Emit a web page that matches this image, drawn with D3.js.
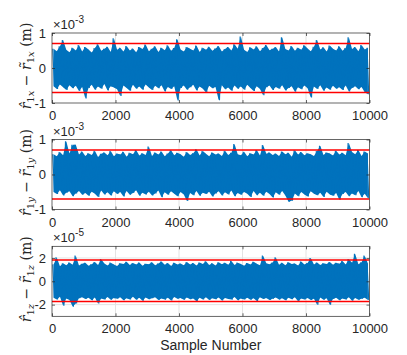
<!DOCTYPE html>
<html>
<head>
<meta charset="utf-8">
<script src="https://cdn.jsdelivr.net/npm/d3@7/dist/d3.min.js"></script>
<style>
  html, body { margin: 0; padding: 0; background: #fff; }
  svg { display: block; }
</style>
</head>
<body>
<svg id="chart" width="407" height="355"></svg>
<script>
// ---------- DATA ----------
const xTicks = [0, 2000, 4000, 6000, 8000, 10000];
const binSize = 100; // each envelope value covers 100 samples

// Panel 1: r̂1x − r̃1x, units of 1e-3 m (upper / lower extremes per 100-sample bin)
const p1Up = [0.55,0.48,0.62,0.80,0.52,0.45,0.58,0.50,0.66,0.47,
              0.60,0.53,0.44,0.57,0.68,0.49,0.55,0.61,0.46,0.85,
              0.52,0.58,0.47,0.63,0.50,0.56,0.45,0.60,0.54,0.67,
              0.48,0.55,0.62,0.46,0.58,0.51,0.65,0.49,0.57,0.82,
              0.53,0.47,0.60,0.55,0.50,0.64,0.46,0.58,0.52,0.61,
              0.49,0.56,0.63,0.47,0.54,0.60,0.50,0.68,0.55,0.90,
              0.52,0.46,0.59,0.53,0.62,0.48,0.57,0.66,0.51,0.55,
              0.60,0.47,0.88,0.54,0.50,0.63,0.49,0.58,0.52,0.65,
              0.56,0.48,0.61,0.80,0.53,0.59,0.47,0.64,0.55,0.50,
              0.62,0.49,0.57,0.88,0.54,0.60,0.48,0.66,0.53,0.58];
const p1Lo = [-0.52,-0.60,-0.47,-0.55,-0.63,-0.49,-0.58,-0.51,-0.66,-0.54,
              -0.87,-0.57,-0.48,-0.62,-0.53,-0.59,-0.46,-0.64,-0.52,-0.56,
              -0.61,-0.80,-0.50,-0.57,-0.65,-0.48,-0.59,-0.53,-0.62,-0.47,
              -0.56,-0.63,-0.51,-0.58,-0.49,-0.67,-0.54,-0.60,-0.52,-0.93,
              -0.57,-0.50,-0.62,-0.55,-0.48,-0.64,-0.53,-0.59,-0.70,-0.51,
              -0.58,-0.54,-0.92,-0.49,-0.61,-0.56,-0.65,-0.50,-0.59,-0.53,
              -0.62,-0.48,-0.57,-0.66,-0.52,-0.60,-0.78,-0.55,-0.50,-0.63,
              -0.54,-0.59,-0.49,-0.64,-0.57,-0.52,-0.68,-0.55,-0.61,-0.50,
              -0.58,-0.84,-0.53,-0.60,-0.49,-0.65,-0.56,-0.62,-0.51,-0.59,
              -0.55,-0.63,-0.50,-0.67,-0.57,-0.52,-0.61,-0.54,-0.69,-0.75];
const p1Bounds = [-0.70, 0.70];
const p1YTicks = [-1, 0, 1];

// Panel 2: r̂1y − r̃1y, units of 1e-3 m
const p2Up = [0.58,0.52,0.64,0.55,0.95,0.60,0.85,0.85,0.57,0.66,
              0.53,0.61,0.56,0.68,0.50,0.59,0.63,0.55,0.67,0.52,
              0.60,0.57,0.65,0.51,0.62,0.58,0.70,0.54,0.61,0.56,
              0.80,0.53,0.63,0.57,0.66,0.52,0.60,0.69,0.55,0.62,
              0.58,0.51,0.64,0.56,0.61,0.72,0.54,0.67,0.59,0.52,
              0.63,0.57,0.60,0.53,0.68,0.56,0.62,0.87,0.58,0.55,
              0.65,0.52,0.61,0.57,0.70,0.54,0.84,0.59,0.63,0.56,
              0.60,0.53,0.66,0.58,0.62,0.51,0.69,0.57,0.64,0.55,
              0.61,0.58,0.53,0.67,0.82,0.56,0.63,0.60,0.54,0.68,
              0.57,0.62,0.55,0.90,0.64,0.58,0.70,0.53,0.66,0.60];
const p2Lo = [-0.50,-0.56,-0.45,-0.60,-0.52,-0.48,-0.62,-0.54,-0.47,-0.58,
              -0.53,-0.61,-0.49,-0.55,-0.64,-0.46,-0.57,-0.51,-0.60,-0.48,
              -0.56,-0.50,-0.63,-0.47,-0.58,-0.53,-0.45,-0.61,-0.52,-0.57,
              -0.49,-0.60,-0.54,-0.46,-0.65,-0.51,-0.58,-0.48,-0.55,-0.62,
              -0.50,-0.57,-0.76,-0.53,-0.59,-0.47,-0.61,-0.52,-0.56,-0.49,
              -0.63,-0.54,-0.48,-0.60,-0.51,-0.57,-0.46,-0.62,-0.53,-0.58,
              -0.50,-0.55,-0.64,-0.47,-0.59,-0.52,-0.61,-0.49,-0.56,-0.66,
              -0.51,-0.58,-0.47,-0.60,-0.78,-0.75,-0.54,-0.62,-0.50,-0.57,
              -0.63,-0.48,-0.55,-0.59,-0.52,-0.64,-0.49,-0.57,-0.61,-0.53,
              -0.72,-0.56,-0.50,-0.62,-0.54,-0.59,-0.47,-0.65,-0.55,-0.68];
const p2Bounds = [-0.70, 0.70];
const p2YTicks = [-1, 0, 1];

// Panel 3: r̂1z − r̃1z, units of 1e-5 m
const p3Up = [1.45,2.05,1.30,1.55,1.38,1.62,1.42,2.20,1.35,1.50,
              1.58,1.33,1.47,1.65,1.40,1.90,1.52,1.36,1.60,1.44,
              1.31,1.55,1.48,1.68,1.39,1.57,1.43,1.62,1.34,1.51,
              1.46,1.64,1.37,1.53,1.70,1.41,1.56,1.32,1.59,1.45,
              1.52,1.38,1.66,1.44,1.57,1.35,1.61,1.49,1.72,1.40,
              1.54,1.36,1.63,1.47,1.58,1.42,1.75,1.39,1.60,1.48,
              1.33,1.56,1.44,1.67,1.51,1.38,2.20,1.55,1.46,1.62,
              2.05,1.41,1.58,1.37,1.64,1.49,1.53,1.35,1.69,1.45,
              1.57,2.00,1.43,1.61,1.39,1.55,1.48,1.66,1.42,1.59,
              1.51,1.74,1.44,1.90,1.60,2.35,1.47,1.63,2.20,1.52];
const p3Lo = [-1.40,-1.55,-1.32,-2.10,-1.48,-1.60,-2.17,-1.90,-1.45,-1.36,
              -1.52,-1.41,-1.63,-1.38,-1.90,-1.47,-1.56,-1.34,-1.59,-1.44,
              -1.50,-1.37,-1.62,-1.46,-1.55,-1.33,-1.58,-1.42,-1.67,-1.39,
              -1.53,-1.45,-1.36,-1.61,-1.48,-1.57,-1.40,-1.65,-1.35,-1.50,
              -1.44,-1.58,-1.38,-1.54,-1.47,-1.70,-1.41,-1.56,-1.37,-1.60,
              -1.46,-1.53,-1.39,-1.64,-1.43,-1.51,-1.57,-1.35,-1.62,-1.48,
              -1.55,-1.40,-1.59,-1.45,-1.68,-1.36,-1.52,-1.44,-1.61,-1.49,
              -1.38,-1.57,-1.46,-1.63,-1.42,-1.54,-1.37,-1.72,-1.48,-1.56,
              -1.43,-1.60,-1.50,-2.00,-1.39,-1.58,-1.45,-2.00,-1.52,-1.41,
              -1.62,-1.47,-1.55,-1.36,-1.66,-1.44,-1.58,-1.50,-1.40,-1.60];
const p3Bounds = [-1.73, 1.82];
const p3YTicks = [-2, 0, 2];

const axisLetters = ["x", "y", "z"];
const exponents = ["-3", "-3", "-5"];
const xLabel = "Sample Number";

// ---------- LAYOUT ----------
const svg = d3.select("#chart");
const left = 52, right = 369.5;
const panels = [
  { top: 33,    bottom: 103, domain: [-1, 1], ticks: p1YTicks, up: p1Up, lo: p1Lo, bounds: p1Bounds },
  { top: 139.5, bottom: 209.5, domain: [-1, 1], ticks: p2YTicks, up: p2Up, lo: p2Lo, bounds: p2Bounds },
  { top: 246.3, bottom: 316.3, domain: [-3, 3], ticks: p3YTicks, up: p3Up, lo: p3Lo, bounds: p3Bounds }
];
const blue = "#0072BD", red = "#FF0000", axisCol = "#262626", gridCol = "#e3e3e3";
const sansFont = "'Liberation Sans', Arial, Helvetica, sans-serif";
const serifFont = "'DejaVu Serif', 'Liberation Serif', serif";

const x = d3.scaleLinear().domain([0, 10000]).range([left, right]);

panels.forEach((p, k) => {
  const y = d3.scaleLinear().domain(p.domain).range([p.bottom, p.top]);
  const g = svg.append("g");

  const cid = "clip" + k;
  svg.append("clipPath").attr("id", cid).append("rect")
    .attr("x", left).attr("y", p.top).attr("width", right - left).attr("height", p.bottom - p.top);

  // grid
  g.append("g").selectAll("line").data(xTicks.slice(1, -1)).join("line")
    .attr("x1", d => x(d)).attr("x2", d => x(d)).attr("y1", p.top).attr("y2", p.bottom)
    .attr("stroke", gridCol).attr("stroke-width", 1);
  g.append("g").selectAll("line").data(p.ticks.filter(t => t > p.domain[0] && t < p.domain[1])).join("line")
    .attr("x1", left).attr("x2", right).attr("y1", d => y(d)).attr("y2", d => y(d))
    .attr("stroke", gridCol).attr("stroke-width", 1);

  const dg = g.append("g").attr("clip-path", `url(#${cid})`);

  // data: solid min/max envelope area per bin
  const bins = p.up.map((u, i) => ({ s: i * binSize + binSize / 2, u: u, l: p.lo[i] }));
  const area = d3.area().x(d => x(d.s)).y0(d => y(d.l)).y1(d => y(d.u));
  dg.append("path").attr("d", area(bins)).attr("fill", blue).attr("stroke", "none");

  // plus the trace zig-zagging between extremes (gives the thin spikes)
  const pts = [];
  p.up.forEach((u, i) => {
    pts.push([i * binSize + binSize * 0.25, u]);
    pts.push([i * binSize + binSize * 0.75, p.lo[i]]);
  });
  const line = d3.line().x(d => x(d[0])).y(d => y(d[1]));
  dg.append("path").attr("d", line(pts)).attr("fill", "none")
    .attr("stroke", blue).attr("stroke-width", 1.1).attr("stroke-linejoin", "bevel");

  // bounds
  g.append("g").attr("clip-path", `url(#${cid})`).selectAll("line").data(p.bounds).join("line")
    .attr("x1", left).attr("x2", right).attr("y1", d => y(d)).attr("y2", d => y(d))
    .attr("stroke", red).attr("stroke-width", 1.6);

  // frame
  g.append("rect").attr("x", left).attr("y", p.top).attr("width", right - left).attr("height", p.bottom - p.top)
    .attr("fill", "none").attr("stroke", axisCol).attr("stroke-width", 0.7);

  // axes with inward ticks
  const ax = g.append("g").attr("transform", `translate(0,${p.bottom})`)
    .call(d3.axisBottom(x).tickValues(xTicks).tickFormat(d3.format("d"))
      .tickSizeInner(-3).tickSizeOuter(0).tickPadding(6));
  const axT = g.append("g").attr("transform", `translate(0,${p.top})`)
    .call(d3.axisTop(x).tickValues(xTicks).tickSizeInner(-3).tickSizeOuter(0).tickFormat(""));
  const ay = g.append("g").attr("transform", `translate(${left},0)`)
    .call(d3.axisLeft(y).tickValues(p.ticks).tickFormat(d => d < 0 ? "-" + Math.abs(d) : String(d))
      .tickSizeInner(-3).tickSizeOuter(0).tickPadding(6));
  const ayR = g.append("g").attr("transform", `translate(${right},0)`)
    .call(d3.axisRight(y).tickValues(p.ticks).tickSizeInner(-3).tickSizeOuter(0).tickFormat(""));
  [ax, axT, ay, ayR].forEach(a => {
    a.select(".domain").remove();
    a.selectAll(".tick line").attr("stroke", axisCol).attr("stroke-width", 0.7);
    a.selectAll("text").attr("fill", axisCol).style("font-family", sansFont).style("font-size", "13px");
  });
  ax.selectAll("text").attr("dy", "0.85em");

  // exponent label
  const ex = g.append("text").attr("x", left + 1).attr("y", p.top - 4)
    .attr("fill", axisCol).style("font-family", sansFont).style("font-size", "13px");
  ex.append("tspan").text("\u00d710");
  ex.append("tspan").attr("dy", -6).style("font-size", "10px").text(exponents[k]);

  // y label (math)
  const cy = (p.top + p.bottom) / 2 - 2;
  const lab = g.append("text").attr("transform", `translate(31,${cy}) rotate(-90)`)
    .attr("text-anchor", "middle").attr("fill", axisCol)
    .style("font-family", serifFont).style("font-size", "14px");
  const L = axisLetters[k];
  lab.append("tspan").style("font-style", "italic").text("r\u0302");
  lab.append("tspan").attr("dy", 3).style("font-size", "10px").text("1");
  lab.append("tspan").style("font-size", "10px").style("font-style", "italic").text(L);
  lab.append("tspan").attr("dy", -3).text(" \u2212 ");
  lab.append("tspan").style("font-style", "italic").text("r\u0303");
  lab.append("tspan").attr("dy", 3).style("font-size", "10px").text("1");
  lab.append("tspan").style("font-size", "10px").style("font-style", "italic").text(L);
  lab.append("tspan").attr("dy", -3).text(" (m)");
});

// x label
svg.append("text").attr("x", (left + right) / 2).attr("y", 349.5).attr("text-anchor", "middle")
  .attr("fill", axisCol).style("font-family", sansFont).style("font-size", "14px").text(xLabel);
</script>
</body>
</html>
